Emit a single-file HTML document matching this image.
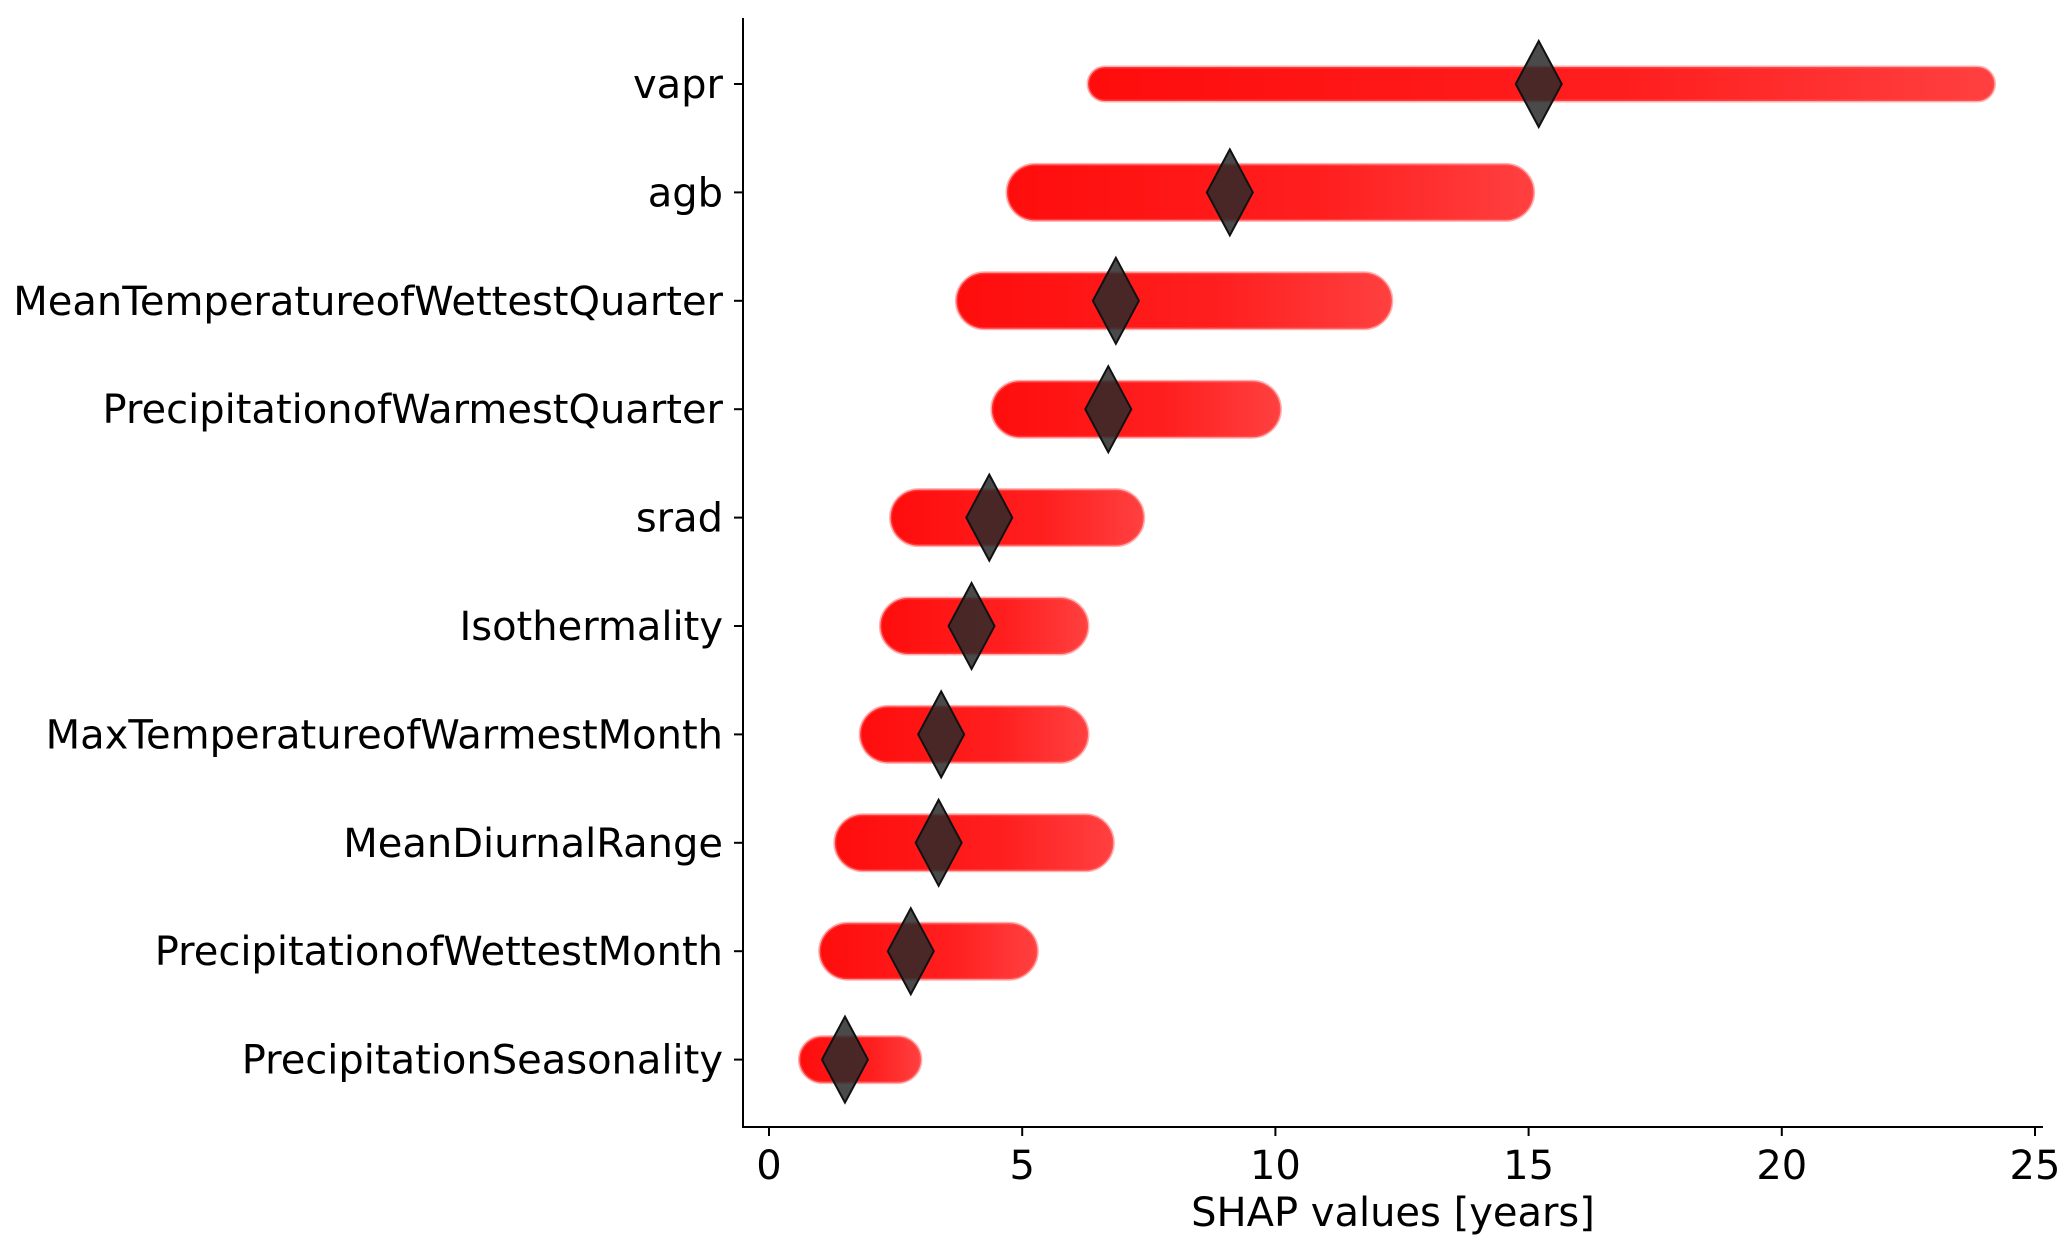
<!DOCTYPE html>
<html><head><meta charset="utf-8">
<style>
html,body{margin:0;padding:0;background:#fff;}
svg{display:block;font-family:"DejaVu Sans","Liberation Sans",sans-serif;}
</style></head>
<body>
<svg id="chart" width="2067" height="1253" viewBox="0 0 2067 1253" xmlns="http://www.w3.org/2000/svg">
<defs>
<linearGradient id="fade" x1="0" x2="1" y1="0" y2="0">
<stop offset="0" stop-color="#ff0000" stop-opacity="0.95"/>
<stop offset="0.6" stop-color="#ff0000" stop-opacity="0.88"/>
<stop offset="1" stop-color="#ff0000" stop-opacity="0.75"/>
</linearGradient>
</defs>
<g id="plot"></g>
</svg>
<script>
const features = ["vapr","agb","MeanTemperatureofWettestQuarter","PrecipitationofWarmestQuarter","srad","Isothermality","MaxTemperatureofWarmestMonth","MeanDiurnalRange","PrecipitationofWettestMonth","PrecipitationSeasonality"];
const minVals = [6.3,4.7,3.7,4.4,2.4,2.2,1.8,1.3,1.0,0.6];
const maxVals = [24.2,15.1,12.3,10.1,7.4,6.3,6.3,6.8,5.3,3.0];
const meanVals = [15.2,9.1,6.85,6.7,4.35,4.0,3.4,3.35,2.8,1.5];
const xTicks = [0,5,10,15,20,25];

const NS="http://www.w3.org/2000/svg";
const g=document.getElementById('plot');
const x0=769, pxPerUnit=50.64;
const xs=v=>x0+v*pxPerUnit;
const y0=84, rowStep=108.4;
const ys=i=>y0+i*rowStep;
const axL=743, axB=1127, axT=18, axR=2043;
function mk(t,a){const e=document.createElementNS(NS,t);for(const k in a)e.setAttribute(k,a[k]);g.appendChild(e);return e;}

features.forEach((f,i)=>{
  const y=ys(i);
  const h = i===0 ? 34 : (i===9 ? 46 : 56);
  const b=mk('rect',{x:xs(minVals[i]),y:y-h/2,width:xs(maxVals[i])-xs(minVals[i]),height:h,rx:h/2,ry:h/2,fill:'url(#fade)',stroke:'#ff6060','stroke-opacity':0.5,'stroke-width':3});
  
  
  const m=xs(meanVals[i]);
  const d=mk('polygon',{points:`${m},${y-43} ${m+23},${y} ${m},${y+43} ${m-23},${y}`,fill:'#2a2a2a','fill-opacity':0.85,stroke:'#111','stroke-width':2});
  
  
  const tk=mk('line',{x1:axL-9,x2:axL,y1:y,y2:y,stroke:'#000','stroke-width':2});
  
  
  const t=mk('text',{x:axL-20,y:y+14,'text-anchor':'end','font-size':40,fill:'#000'});
  t.textContent=f;
  
  
});
xTicks.forEach(v=>{
  const tk=mk('line',{x1:xs(v),x2:xs(v),y1:axB,y2:axB+9,stroke:'#000','stroke-width':2});
  
  
  const t=mk('text',{x:xs(v),y:axB+52,'text-anchor':'middle','font-size':40,fill:'#000'});
  t.textContent=v;
  
  
});
const la=mk('line',{x1:axL,x2:axL,y1:axT,y2:axB+1,stroke:'#000','stroke-width':2});


const ba=mk('line',{x1:axL-1,x2:axR,y1:axB,y2:axB,stroke:'#000','stroke-width':2});


const xt=mk('text',{x:(axL+axR)/2,y:1226,'text-anchor':'middle','font-size':40,fill:'#000'});
xt.textContent='SHAP values [years]';


</script>
</body></html>
